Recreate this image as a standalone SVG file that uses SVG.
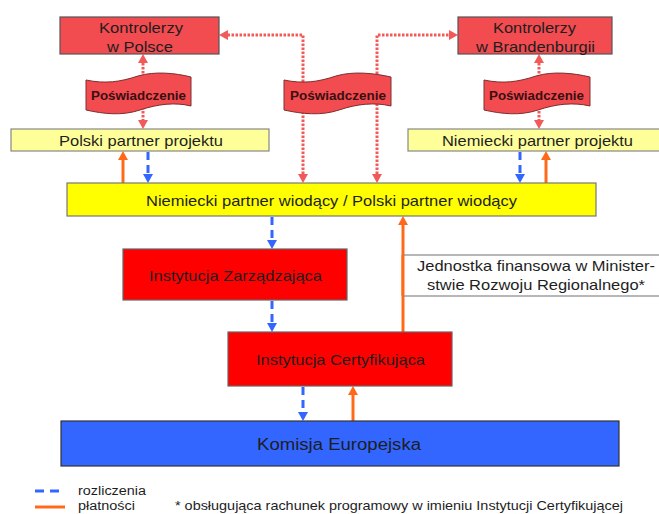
<svg xmlns="http://www.w3.org/2000/svg" width="659" height="514" viewBox="0 0 659 514">
<defs>
<style>
text{font-family:"Liberation Sans",Arial,sans-serif;fill:#1e1e1e}
.t15{font-size:15px}
.t16{font-size:16px}
.t14{font-size:14.5px}
.t13{font-size:13px}
.t12{font-size:12px}
.pw{font-size:12.5px;font-weight:bold;fill:#3a1010}
.ctl{fill:#F24B50;stroke:#555;stroke-width:1.2}
.flag{fill:#F24B50;stroke:#7a3030;stroke-width:1}
.lyel{fill:#FFFF99;stroke:#888;stroke-width:1.2}
.yel{fill:#FFFF00;stroke:#777;stroke-width:1.2}
.red{fill:#FF0000;stroke:#666;stroke-width:1.2}
.blue{fill:#3366FF;stroke:#333;stroke-width:1.2}
.note{fill:#fff;stroke:#888;stroke-width:1.2}
.bl{fill:none;stroke:#3366FF;stroke-width:3;stroke-dasharray:8 5}
.or{fill:none;stroke:#FF6A1A;stroke-width:3}
.rd{fill:none;stroke:#F25A5A;stroke-width:3;stroke-dasharray:2.5 1.5}
</style>
<marker id="ab" viewBox="0 0 9 10" markerWidth="9" markerHeight="10" refX="0" refY="5" orient="auto" markerUnits="userSpaceOnUse"><path d="M0,0 L9,5 L0,10 z" fill="#3366FF"/></marker>
<marker id="ao" viewBox="0 0 9 10" markerWidth="9" markerHeight="10" refX="0" refY="5" orient="auto" markerUnits="userSpaceOnUse"><path d="M0,0 L9,5 L0,10 z" fill="#FF6A1A"/></marker>
<marker id="ar" viewBox="0 0 9 10" markerWidth="9" markerHeight="10" refX="0" refY="5" orient="auto-start-reverse" markerUnits="userSpaceOnUse"><path d="M0,0 L9,5 L0,10 z" fill="#F25A5A"/></marker>
</defs>
<rect width="659" height="514" fill="#fff"/>

<g id="connectors">
<path class="rd" d="M143,63 V120" marker-start="url(#ar)" marker-end="url(#ar)"/>
<path class="rd" d="M539,63 V120" marker-start="url(#ar)" marker-end="url(#ar)"/>
<path class="rd" d="M303,174 V35 H228" marker-start="url(#ar)" marker-end="url(#ar)"/>
<path class="rd" d="M377,174 V35 H449" marker-start="url(#ar)" marker-end="url(#ar)"/>
<path class="or" d="M123,183 V160" marker-end="url(#ao)"/>
<path class="or" d="M546,183 V160" marker-end="url(#ao)"/>
<path class="or" d="M403,332 V225" marker-end="url(#ao)"/>
<path class="or" d="M353,421 V395" marker-end="url(#ao)"/>
<path class="bl" d="M148,152 V174" marker-end="url(#ab)"/>
<path class="bl" d="M520,152 V174" marker-end="url(#ab)"/>
<path class="bl" d="M272,217 V240" marker-end="url(#ab)"/>
<path class="bl" d="M272,301 V323" marker-end="url(#ab)"/>
<path class="bl" d="M303,387 V412" marker-end="url(#ab)"/>
</g>

<g id="kontrolerzy-polska">
<rect class="ctl" x="60" y="17" width="159" height="37"/>
<text class="t15" x="99" y="33" textLength="84" lengthAdjust="spacingAndGlyphs">Kontrolerzy</text>
<text class="t15" x="107" y="52" textLength="66" lengthAdjust="spacingAndGlyphs">w Polsce</text>
</g>
<g id="kontrolerzy-brandenburgia">
<rect class="ctl" x="458" y="17" width="154" height="37"/>
<text class="t15" x="493" y="33" textLength="83" lengthAdjust="spacingAndGlyphs">Kontrolerzy</text>
<text class="t15" x="476" y="52" textLength="119" lengthAdjust="spacingAndGlyphs">w Brandenburgii</text>
</g>

<g id="poswiadczenie-lewe">
<path class="flag" d="M86,80 C105,84 120,82 138,76 C155,71 175,73 191,77 L191,106 C175,102 158,104 140,110 C122,116 104,114 86,110 Z"/>
<text class="pw" x="91" y="100" textLength="95" lengthAdjust="spacingAndGlyphs">Poświadczenie</text>
</g>
<g id="poswiadczenie-srodek">
<path class="flag" d="M284,80 C303,84 318,82 336,76 C353,71 373,73 391,77 L391,106 C374,102 357,104 339,110 C321,116 302,114 284,110 Z"/>
<text class="pw" x="290" y="100" textLength="96" lengthAdjust="spacingAndGlyphs">Poświadczenie</text>
</g>
<g id="poswiadczenie-prawe">
<path class="flag" d="M484,80 C503,84 518,82 536,76 C553,71 573,73 590,77 L590,106 C573,102 556,104 538,110 C520,116 502,114 484,110 Z"/>
<text class="pw" x="489" y="100" textLength="95" lengthAdjust="spacingAndGlyphs">Poświadczenie</text>
</g>

<g id="polski-partner-projektu">
<rect class="lyel" x="11" y="129" width="258" height="22"/>
<text class="t15" x="59" y="146" textLength="164" lengthAdjust="spacingAndGlyphs">Polski partner projektu</text>
</g>
<g id="niemiecki-partner-projektu">
<rect class="lyel" x="408" y="129" width="255" height="22"/>
<text class="t15" x="442" y="146" textLength="191" lengthAdjust="spacingAndGlyphs">Niemiecki partner projektu</text>
</g>

<g id="partner-wiodacy">
<rect class="yel" x="67" y="183" width="529" height="33"/>
<text class="t15" x="146" y="206" textLength="371" lengthAdjust="spacingAndGlyphs">Niemiecki partner wiodący / Polski partner wiodący</text>
</g>

<g id="instytucja-zarzadzajaca">
<rect class="red" x="123" y="249" width="224" height="51"/>
<text class="t15" x="149" y="281" textLength="173" lengthAdjust="spacingAndGlyphs">Instytucja Zarządzająca</text>
</g>

<g id="jednostka-finansowa">
<rect class="note" x="403" y="255" width="260" height="41"/>
<text class="t14" x="417" y="271" textLength="238" lengthAdjust="spacingAndGlyphs">Jednostka finansowa w Minister-</text>
<text class="t14" x="427" y="290" textLength="218" lengthAdjust="spacingAndGlyphs">stwie Rozwoju Regionalnego*</text>
</g>
<line x1="403" y1="255" x2="403" y2="296" class="or"/>

<g id="instytucja-certyfikujaca">
<rect class="red" x="228" y="332" width="224" height="54"/>
<text class="t15" x="256" y="365" textLength="169" lengthAdjust="spacingAndGlyphs">Instytucja Certyfikująca</text>
</g>

<g id="komisja-europejska">
<rect class="blue" x="61" y="421" width="558" height="45"/>
<text class="t16" x="257" y="450" textLength="164" lengthAdjust="spacingAndGlyphs">Komisja Europejska</text>
</g>

<g id="legenda">
<line x1="35" y1="491" x2="62" y2="491" stroke="#3366FF" stroke-width="3" stroke-dasharray="9 6"/>
<text class="t12" x="78" y="495" textLength="68" lengthAdjust="spacingAndGlyphs">rozliczenia</text>
<line x1="35" y1="507" x2="65" y2="507" stroke="#FF6A1A" stroke-width="3"/>
<text class="t12" x="78" y="510" textLength="57" lengthAdjust="spacingAndGlyphs">płatności</text>
<text class="t13" x="175" y="510" textLength="448" lengthAdjust="spacingAndGlyphs">* obsługująca rachunek programowy w imieniu Instytucji Certyfikującej</text>
</g>
</svg>
